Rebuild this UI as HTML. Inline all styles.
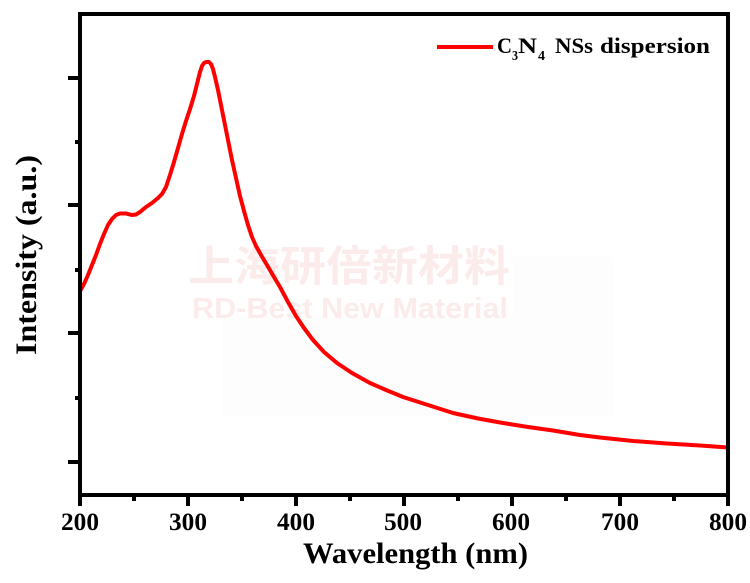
<!DOCTYPE html>
<html>
<head>
<meta charset="utf-8">
<style>
  html, body { margin:0; padding:0; background:#fff; }
  svg { display:block; }
  .t { font-family: "Liberation Serif", serif; font-weight: bold; fill:#000; }
</style>
</head>
<body>
<svg width="750" height="583" viewBox="0 0 750 583" xmlns="http://www.w3.org/2000/svg">
  <rect x="0" y="0" width="750" height="583" fill="#fff"/>
  <!-- faint background patches -->
  <rect x="223" y="317" width="390" height="100" fill="#fdfdfe"/>
  <rect x="513" y="257" width="100" height="60" fill="#fdfdfe"/>

  <!-- watermark -->
  <text x="188" y="281" font-family="'Noto Sans CJK SC', 'WenQuanYi Zen Hei', sans-serif" font-weight="bold" font-size="42" fill="#fcebeb" textLength="322" lengthAdjust="spacingAndGlyphs">上海研倍新材料</text>
  <text x="192" y="318" font-family="'Liberation Sans', sans-serif" font-weight="bold" font-size="29" fill="#fcebeb" textLength="316" lengthAdjust="spacingAndGlyphs">RD-Best New Material</text>

  <!-- curve -->
  <polyline fill="none" stroke="#ff0000" stroke-width="4" stroke-linejoin="round" stroke-linecap="round" shape-rendering="geometricPrecision"
    points="80,291 84,284 88,275 92,265 96,255 100,244 104,234 108,225 112,219 116,215 120,213.5 126,213.5 132,215 136,214.5 140,212 146,207 152,203 158,198 162,194 166,187 170,175 174,162 178,148 182,134 186,121 190,109 194,96 197,84 200,72 202,66 204,63 206,62 209,62 211,64 213,69 215,77 218,90 221,105 224,120 228,140 232,160 236,178 240,196 244,211 248,225 252,237 256,246 261,255 267,265 274,277 280,287 288,302 296,316 304,328 313,340 324,352 337,363 352,373 370,383 386,390 403,397 428,405 453,413 478,418.5 503,423 528,427 553,430.5 580,435 600,437.5 633,441 667,443.5 700,445.5 728,447.5"/>

  <!-- frame -->
  <rect x="80" y="14" width="648" height="481" fill="none" stroke="#000" stroke-width="4"/>

  <!-- x ticks -->
  <g stroke="#000" stroke-width="4">
    <line x1="80" y1="495" x2="80" y2="506"/>
    <line x1="188" y1="495" x2="188" y2="506"/>
    <line x1="296" y1="495" x2="296" y2="506"/>
    <line x1="404" y1="495" x2="404" y2="506"/>
    <line x1="512" y1="495" x2="512" y2="506"/>
    <line x1="620" y1="495" x2="620" y2="506"/>
    <line x1="728" y1="495" x2="728" y2="506"/>
    <line x1="134" y1="495" x2="134" y2="501"/>
    <line x1="242" y1="495" x2="242" y2="501"/>
    <line x1="350" y1="495" x2="350" y2="501"/>
    <line x1="458" y1="495" x2="458" y2="501"/>
    <line x1="566" y1="495" x2="566" y2="501"/>
    <line x1="674" y1="495" x2="674" y2="501"/>
  </g>
  <!-- y ticks -->
  <g stroke="#000" stroke-width="4">
    <line x1="68" y1="78" x2="80" y2="78"/>
    <line x1="68" y1="205" x2="80" y2="205"/>
    <line x1="68" y1="333" x2="80" y2="333"/>
    <line x1="68" y1="462" x2="80" y2="462"/>
    <line x1="75" y1="142" x2="80" y2="142"/>
    <line x1="75" y1="270" x2="80" y2="270"/>
    <line x1="75" y1="398" x2="80" y2="398"/>
  </g>

  <!-- x tick labels -->
  <g class="t" font-size="25" text-anchor="middle">
    <text class="t" x="80" y="530" textLength="38" lengthAdjust="spacingAndGlyphs">200</text>
    <text class="t" x="188" y="530" textLength="38" lengthAdjust="spacingAndGlyphs">300</text>
    <text class="t" x="296" y="530" textLength="38" lengthAdjust="spacingAndGlyphs">400</text>
    <text class="t" x="403" y="530" textLength="38" lengthAdjust="spacingAndGlyphs">500</text>
    <text class="t" x="511" y="530" textLength="38" lengthAdjust="spacingAndGlyphs">600</text>
    <text class="t" x="620" y="530" textLength="38" lengthAdjust="spacingAndGlyphs">700</text>
    <text class="t" x="728" y="530" textLength="38" lengthAdjust="spacingAndGlyphs">800</text>
  </g>

  <!-- axis titles -->
  <text class="t" x="303" y="563" font-size="30" textLength="225" lengthAdjust="spacingAndGlyphs">Wavelength (nm)</text>
  <text class="t" transform="translate(36,355) rotate(-90)" x="0" y="0" font-size="30" textLength="200" lengthAdjust="spacingAndGlyphs">Intensity (a.u.)</text>

  <!-- legend -->
  <line x1="437" y1="47" x2="493" y2="47" stroke="#ff0000" stroke-width="4"/>
  <text class="t" x="497" y="53" font-size="22" textLength="15" lengthAdjust="spacingAndGlyphs">C</text>
  <text class="t" x="512" y="60" font-size="14" textLength="6" lengthAdjust="spacingAndGlyphs">3</text>
  <text class="t" x="518" y="53" font-size="22" textLength="19" lengthAdjust="spacingAndGlyphs">N</text>
  <text class="t" x="538" y="60" font-size="14" textLength="7" lengthAdjust="spacingAndGlyphs">4</text>
  <text class="t" x="555" y="53" font-size="22" textLength="38" lengthAdjust="spacingAndGlyphs">NSs</text>
  <text class="t" x="600" y="53" font-size="22" textLength="110" lengthAdjust="spacingAndGlyphs">dispersion</text>
</svg>
</body>
</html>
